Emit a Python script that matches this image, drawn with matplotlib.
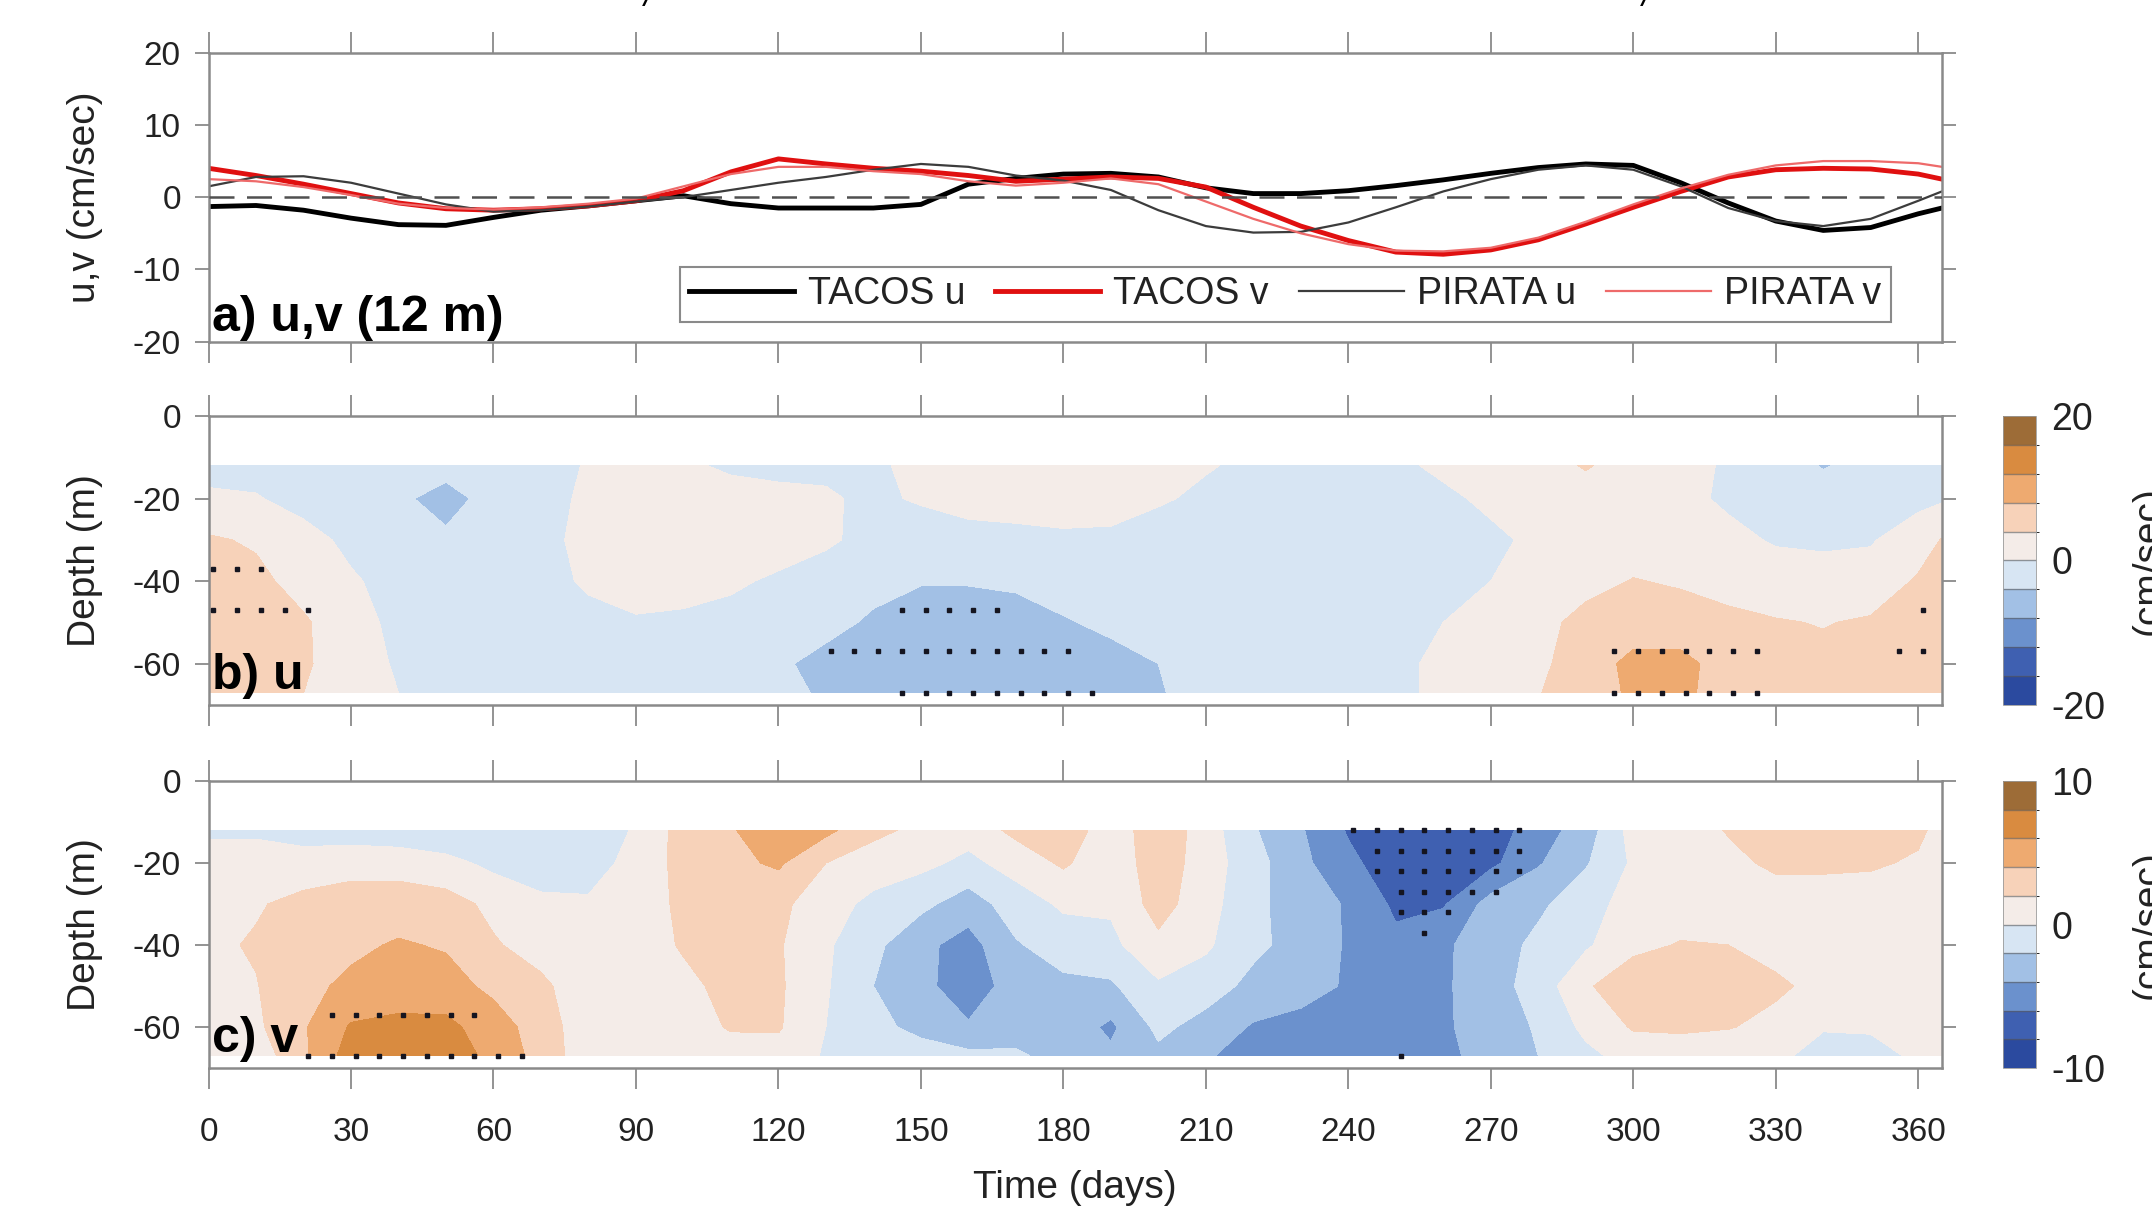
import numpy as np
import matplotlib
matplotlib.use("Agg")
import matplotlib.pyplot as plt
from matplotlib.colors import ListedColormap, BoundaryNorm

plt.rcParams["font.family"] = ["Liberation Sans", "DejaVu Sans"]
plt.rcParams["axes.unicode_minus"] = False

# time axis shared by everything (days)
days = [0, 10, 20, 30, 40, 50, 60, 70, 80, 90, 100, 110, 120, 130, 140, 150, 160,
        170, 180, 190, 200, 210, 220, 230, 240, 250, 260, 270, 280, 290, 300, 310,
        320, 330, 340, 350, 360, 365]

# panel a: 12 m currents (cm/sec)
tacos_u = [-1.3, -1.15, -1.8, -2.9, -3.8, -3.9, -2.8, -1.8, -1.2, -0.5, 0.2, -0.9,
           -1.5, -1.5, -1.5, -1.0, 1.8, 2.6, 3.2, 3.3, 2.8, 1.3, 0.5, 0.5, 0.9, 1.6,
           2.4, 3.3, 4.1, 4.6, 4.4, 2.0, -0.8, -3.3, -4.6, -4.2, -2.3, -1.5]
tacos_v = [4.0, 3.0, 1.8, 0.5, -0.8, -1.6, -1.8, -1.6, -1.2, -0.5, 0.9, 3.5, 5.3,
           4.6, 4.0, 3.6, 3.0, 2.2, 2.5, 2.8, 2.6, 1.4, -1.4, -4.0, -6.0, -7.6, -7.9,
           -7.3, -5.9, -3.7, -1.4, 0.8, 2.8, 3.8, 4.0, 3.9, 3.2, 2.5]
pirata_u = [1.5, 2.8, 2.9, 2.0, 0.5, -1.0, -2.0, -1.8, -1.3, -0.6, 0.0, 1.0, 2.0,
            2.8, 3.8, 4.6, 4.2, 3.0, 2.3, 1.0, -1.8, -4.0, -4.9, -4.8, -3.5, -1.4,
            0.8, 2.5, 3.8, 4.4, 3.8, 1.5, -1.5, -3.3, -4.0, -3.0, -0.5, 0.8]
pirata_v = [2.5, 2.2, 1.4, 0.3, -0.9, -1.5, -1.7, -1.4, -0.9, -0.2, 1.5, 3.2, 4.2,
            4.2, 3.6, 3.2, 2.2, 1.6, 2.0, 2.6, 1.8, -0.6, -3.0, -5.0, -6.5, -7.4,
            -7.5, -7.0, -5.6, -3.4, -1.0, 1.2, 3.1, 4.4, 5.0, 5.0, 4.7, 4.2]

# panels b, c: depth sections, one row per day, columns follow depths
depths = [-12, -20, -30, -40, -50, -60, -67]

u_section = [
    [-1.0, 0.5, 4.5, 6.0, 7.0, 6.5, 6.0],
    [-1.5, 0.3, 3.5, 5.0, 6.5, 6.0, 5.5],
    [-2.0, -1.5, 1.5, 2.5, 4.5, 4.5, 4.0],
    [-2.0, -2.5, -1.0, 0.5, 1.5, 2.0, 2.0],
    [-2.5, -3.5, -2.5, -1.5, -1.0, -0.5, 0.0],
    [-3.0, -5.0, -3.5, -2.5, -2.0, -1.5, -1.0],
    [-2.5, -3.0, -2.5, -2.5, -2.2, -2.0, -1.5],
    [-1.5, -1.5, -1.0, -1.2, -2.0, -2.0, -1.8],
    [0.3, 0.8, 1.0, 0.5, -1.0, -1.8, -1.8],
    [0.6, 1.5, 1.8, 1.2, -0.3, -1.5, -1.8],
    [0.5, 1.5, 2.0, 1.0, -0.5, -1.5, -1.8],
    [-0.5, 1.2, 1.8, 0.5, -1.0, -2.0, -2.0],
    [-0.8, 0.8, 1.5, -0.5, -2.0, -3.5, -3.0],
    [-0.5, 0.3, 0.5, -1.5, -3.0, -5.0, -4.5],
    [-0.3, -0.5, -1.0, -3.0, -4.5, -6.0, -5.5],
    [0.5, 0.3, -1.5, -3.8, -5.5, -6.5, -6.0],
    [1.5, 1.0, -1.0, -3.8, -5.5, -6.5, -6.0],
    [1.8, 1.2, -0.8, -3.6, -5.0, -6.0, -6.0],
    [1.8, 1.3, -0.5, -3.0, -4.2, -5.5, -5.5],
    [1.5, 1.0, -0.5, -2.5, -3.5, -4.8, -5.0],
    [0.8, 0.3, -1.2, -2.5, -3.0, -4.0, -4.2],
    [0.2, -0.5, -2.0, -2.5, -2.5, -3.0, -3.0],
    [-0.5, -1.5, -2.5, -2.5, -2.5, -2.5, -2.5],
    [-1.0, -2.0, -2.5, -2.5, -2.5, -2.0, -2.0],
    [-1.0, -2.0, -2.5, -2.5, -2.0, -1.5, -1.5],
    [-0.5, -1.5, -2.0, -2.0, -1.0, -0.5, -0.5],
    [0.5, -0.5, -1.2, -1.0, 0.0, 0.5, 0.5],
    [1.0, 0.5, -0.5, 0.0, 1.0, 1.5, 1.5],
    [2.0, 1.5, 0.5, 1.0, 2.5, 3.0, 3.8],
    [4.4, 1.8, 1.2, 2.5, 5.5, 6.5, 6.5],
    [2.0, 1.5, 1.8, 4.2, 6.5, 8.8, 8.5],
    [0.8, 0.8, 1.8, 3.5, 6.0, 9.0, 9.0],
    [-0.3, -0.5, 0.8, 2.5, 5.0, 6.5, 6.0],
    [-1.8, -1.5, -0.3, 1.5, 4.3, 5.5, 5.5],
    [-4.3, -2.0, -0.5, 1.2, 3.8, 5.0, 5.0],
    [-2.5, -1.8, -0.3, 1.5, 4.5, 5.5, 5.5],
    [-1.5, -1.0, 2.0, 4.5, 6.0, 6.5, 6.0],
    [-1.0, -0.5, 4.2, 5.5, 6.5, 6.5, 6.0],
]

v_section = [
    [-0.3, 0.8, 1.2, 1.6, 1.5, 1.2, 0.6],
    [-0.3, 0.8, 1.8, 2.2, 1.9, 1.6, 0.8],
    [-0.8, 0.8, 2.6, 3.0, 3.5, 3.8, 3.6],
    [-1.0, 1.2, 3.0, 3.6, 4.4, 6.2, 7.0],
    [-1.3, 1.2, 3.0, 4.2, 5.0, 6.5, 7.2],
    [-1.6, 0.6, 2.8, 3.8, 4.8, 6.5, 7.0],
    [-1.8, -0.5, 1.5, 2.2, 3.5, 5.0, 5.5],
    [-1.8, -1.2, 0.5, 1.2, 2.4, 3.0, 3.2],
    [-1.8, -1.0, 0.3, 0.8, 0.8, 0.8, 0.8],
    [0.3, 0.8, 1.0, 1.0, 0.8, 0.6, 0.4],
    [2.8, 2.6, 2.4, 2.2, 1.5, 1.0, 0.6],
    [3.8, 3.5, 3.0, 2.8, 2.6, 2.2, 1.0],
    [5.5, 4.3, 2.5, 2.2, 2.3, 2.2, 1.2],
    [4.5, 2.0, 0.8, 0.3, 0.2, 0.0, -0.2],
    [2.5, 1.0, -0.5, -1.5, -2.0, -1.5, -1.0],
    [1.5, 0.5, -1.5, -3.5, -3.5, -2.5, -1.2],
    [0.8, -0.5, -3.0, -4.8, -5.0, -3.8, -1.5],
    [2.5, 0.8, -1.0, -2.2, -3.2, -2.6, -1.8],
    [3.5, 2.3, 0.3, -1.0, -2.5, -2.8, -2.5],
    [0.6, 0.6, 0.3, -0.5, -2.3, -4.4, -3.6],
    [3.5, 3.2, 2.8, 1.5, -0.3, -1.5, -2.5],
    [1.0, 1.0, 0.8, 0.3, -1.0, -2.8, -3.8],
    [-1.8, -1.2, -1.5, -1.5, -2.6, -4.2, -4.8],
    [-3.8, -3.5, -3.0, -2.8, -3.3, -4.6, -5.2],
    [-6.2, -5.5, -4.2, -4.2, -4.2, -5.2, -5.5],
    [-7.5, -7.2, -6.4, -5.5, -5.2, -5.3, -5.5],
    [-7.5, -7.2, -6.2, -4.3, -4.3, -4.3, -4.5],
    [-7.0, -6.5, -3.2, -3.0, -2.8, -3.0, -3.2],
    [-5.0, -4.2, -2.4, -1.5, -1.2, -1.8, -2.0],
    [-3.0, -2.2, -0.8, -0.3, 1.8, 0.5, -0.5],
    [0.8, 0.3, 0.8, 1.6, 3.0, 2.2, 0.8],
    [1.2, 1.0, 1.2, 2.1, 3.2, 2.3, 1.0],
    [2.1, 1.6, 1.2, 2.0, 3.0, 2.1, 0.8],
    [2.8, 2.3, 1.2, 1.4, 2.3, 1.5, 0.3],
    [2.8, 2.3, 1.2, 1.0, 1.5, 0.1, -0.5],
    [2.8, 2.2, 1.2, 1.0, 1.0, 0.2, -0.6],
    [2.3, 1.8, 1.0, 1.0, 1.0, 0.8, 0.3],
    [1.5, 1.2, 0.8, 1.0, 1.0, 0.8, 0.5],
]

# significance stippling: (depth, first day, last day), one dot every 5 days
u_dots = [(-37, 1, 11), (-47, 1, 21), (-47, 146, 166), (-57, 131, 181),
          (-67, 146, 186), (-57, 296, 326), (-67, 296, 326), (-57, 356, 361),
          (-47, 361, 361)]
v_dots = [(-12, 241, 276), (-17, 246, 276), (-22, 246, 276), (-27, 251, 271),
          (-32, 251, 261), (-37, 256, 256), (-57, 26, 56), (-67, 21, 66),
          (-67, 251, 251)]

section_colors = ["#2b4a9f", "#3f60b1", "#6b91cd", "#a2c0e5", "#d7e5f3",
                  "#f4ece8", "#f7d2b9", "#eeaa70", "#d98b40", "#9d6c37"]

spine_col = "#8a8a8a"
text_col = "#222222"


def style_axes(ax, show_x_labels=False):
    for s in ax.spines.values():
        s.set_color(spine_col)
        s.set_linewidth(1.8)
    ax.set_xlim(0, 365)
    ax.set_xticks(range(0, 361, 30))
    ax.tick_params(axis="x", direction="out", length=15, width=1.3, color=spine_col,
                   top=True, bottom=True, labelbottom=show_x_labels,
                   labelsize=24, labelcolor=text_col, pad=20)
    ax.tick_params(axis="y", direction="out", length=10, width=1.3, color=spine_col,
                   left=True, right=True, labelsize=24, labelcolor=text_col, pad=10)


def draw_dots(ax, rows):
    for depth, d0, d1 in rows:
        xs = np.arange(d0, d1 + 1, 5)
        ax.plot(xs, np.full(len(xs), depth), "s", ms=3.2, color="#151520",
                linestyle="none", zorder=4)


def draw_section(ax, cax, field, levels, cticks, dots, label):
    z = np.array(field).T
    cmap = ListedColormap(section_colors)
    norm = BoundaryNorm(levels, cmap.N)
    cs = ax.contourf(days, depths, z, levels=levels, cmap=cmap, norm=norm)
    draw_dots(ax, dots)
    ax.set_ylim(-70, 0)
    ax.set_yticks([0, -20, -40, -60])
    ax.set_ylabel("Depth (m)", fontsize=28, color=text_col)
    ax.yaxis.set_label_coords(-0.061, 0.5)
    ax.text(0.002, 0.02, label, transform=ax.transAxes, fontsize=36,
            fontweight="bold", ha="left", va="bottom")
    cb = plt.colorbar(cs, cax=cax, ticks=cticks, drawedges=True)
    cb.dividers.set_color("#5a5a5a")
    cb.dividers.set_linewidth(1.0)
    cb.dividers.set_alpha(0.6)
    cb.outline.set_edgecolor("#9a9a9a")
    cb.outline.set_linewidth(0.6)
    cax.tick_params(length=0, labelsize=27, labelcolor=text_col, pad=11)
    return cb


fig = plt.figure(figsize=(21.52, 12.09), dpi=100)
ax_a = fig.add_axes([0.0969, 0.7174, 0.8055, 0.2390])
ax_b = fig.add_axes([0.0969, 0.4169, 0.8055, 0.2390])
ax_c = fig.add_axes([0.0969, 0.1166, 0.8055, 0.2374])
cax_b = fig.add_axes([0.9308, 0.4169, 0.0153, 0.2390])
cax_c = fig.add_axes([0.9308, 0.1166, 0.0153, 0.2374])

# a) time series
ax_a.plot(days, tacos_u, color="black", lw=3.5, label="TACOS u")
ax_a.plot(days, tacos_v, color="#e01010", lw=3.5, label="TACOS v")
ax_a.plot(days, pirata_u, color="#3c3c3c", lw=1.6, label="PIRATA u")
ax_a.plot(days, pirata_v, color="#ee6a6a", lw=1.6, label="PIRATA v")
ax_a.axhline(0, color="#505050", lw=1.8, linestyle=(0, (10, 5)), zorder=5)
ax_a.set_ylim(-20, 20)
ax_a.set_yticks([-20, -10, 0, 10, 20])
ax_a.set_ylabel("u,v (cm/sec)", fontsize=28, color=text_col)
ax_a.yaxis.set_label_coords(-0.061, 0.5)
ax_a.text(0.002, 0.004, "a) u,v (12 m)", transform=ax_a.transAxes, fontsize=36,
          fontweight="bold", ha="left", va="bottom")
leg = ax_a.legend(loc="upper left", bbox_to_anchor=(0.272, 0.258), ncol=4,
                  fontsize=27, handlelength=2.8, handletextpad=0.35,
                  columnspacing=0.8, borderpad=0.25, borderaxespad=0,
                  fancybox=False, framealpha=1)
leg.get_frame().set_edgecolor(spine_col)
leg.get_frame().set_linewidth(1.5)
for t in leg.get_texts():
    t.set_color(text_col)
style_axes(ax_a)

# b) u section and c) v section
draw_section(ax_b, cax_b, u_section, np.arange(-20, 21, 4), [-20, 0, 20], u_dots, "b) u")
style_axes(ax_b)
draw_section(ax_c, cax_c, v_section, np.arange(-10, 11, 2), [-10, 0, 10], v_dots, "c) v")
style_axes(ax_c, show_x_labels=True)
ax_c.set_xlabel("Time (days)", fontsize=28, color=text_col, labelpad=16)

# colorbar units, clipped by the right edge as in the original
for cax in (cax_b, cax_c):
    pos = cax.get_position()
    fig.text(2131 / 2152, pos.y0 + pos.height / 2, "(cm/sec)", rotation=90,
             ha="left", va="center", fontsize=28, color=text_col)

# bits of the cropped title above the figure
fig.text(649 / 2152, 1 - 13 / 1209, "/", ha="center", va="bottom", fontsize=24,
         style="italic")
fig.text(1647 / 2152, 1 - 13 / 1209, "/", ha="center", va="bottom", fontsize=24,
         style="italic")

fig.savefig("out.png", dpi=100)
